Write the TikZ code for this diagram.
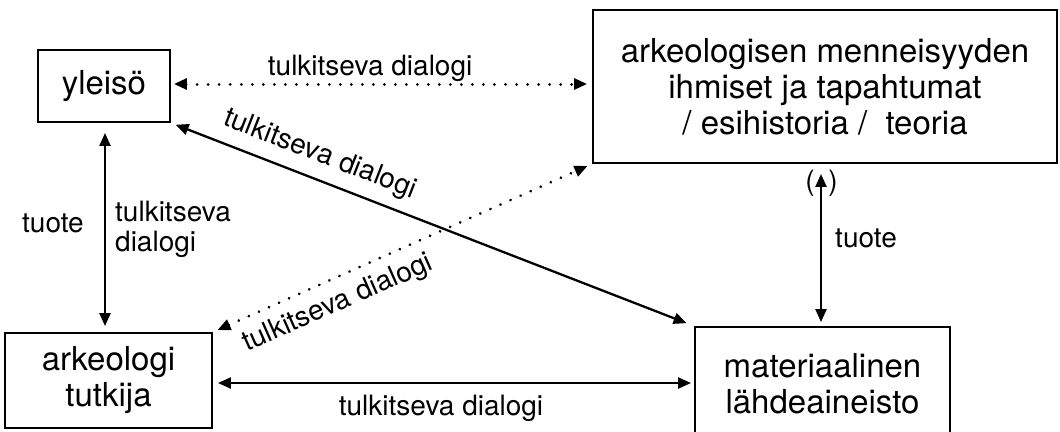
\documentclass[tikz,border=0pt]{standalone}
\usepackage{fontspec}
\setmainfont{TeX Gyre Heros}
\usetikzlibrary{arrows.meta}
\begin{document}
\begin{tikzpicture}[x=1pt,y=-1pt,
 box/.style={draw, line width=1.9pt, inner sep=0pt, align=center, font=\fontsize{33}{36}\selectfont},
 lbl/.style={inner sep=0pt, font=\fontsize{28}{30}\selectfont},
 conn/.style={line width=2.3pt, {Triangle[length=13pt,width=11pt]}-{Triangle[length=13pt,width=11pt]}},
 dotconn/.style={line width=3pt, line cap=round, dash pattern=on 0.01pt off 11pt, {Triangle[length=13pt,width=11pt]}-{Triangle[length=13pt,width=11pt]}}]
\useasboundingbox (0,0) rectangle (1060,431);
% boxes
\node[box, minimum width=132pt, minimum height=72pt] (yl) at (104,86) {yleisö};
\node[box, minimum width=464pt, minimum height=153pt] (big) at (825,86.5) {arkeologisen menneisyyden\\ihmiset ja tapahtumat\\/ esihistoria /\ \ teoria};
\node[box, minimum width=207pt, minimum height=95pt] (ark) at (108.5,380.5) {arkeologi\\tutkija};
\node[box, minimum width=255pt, minimum height=113pt] (mat) at (822.5,383.5) {materiaalinen\\lähdeaineisto};
% connectors
\draw[dotconn, shorten <=3pt, shorten >=5pt] ([yshift=2pt]yl.east) -- ([yshift=2pt]yl.east -| big.west)
  node[lbl, pos=0.473, above=1pt] {tulkitseva dialogi};
\draw[conn, shorten <=5pt, shorten >=8pt] (yl.south east) -- (mat.north west)
  node[lbl, sloped, pos=0.268, above=10pt] {tulkitseva dialogi};
\draw[dotconn, shorten <=5pt, shorten >=5pt] (ark.north east) -- (big.south west)
  node[lbl, sloped, pos=0.303, below=10pt] {tulkitseva dialogi};
\draw[conn, shorten <=10pt, shorten >=6pt] ([xshift=1pt]yl.south) -- ([xshift=1pt]yl.south |- ark.north);
\draw[conn, shorten <=4pt, shorten >=10pt] ([xshift=-1.5pt]mat.north) -- ([xshift=-1.5pt]mat.north |- big.south);
\draw[conn, shorten <=5pt, shorten >=3pt] ([yshift=-2.5pt]ark.east) -- ([yshift=-2.5pt]ark.east -| mat.west)
  node[lbl, pos=0.474, below=11pt] {tulkitseva dialogi};
% free labels
\node[lbl] (tuoteL) at (53,223) {tuote};
\node[lbl, anchor=west, align=left] (tdL) at (115,229) {tulkitseva\\dialogi};
\node[lbl] (tuoteR) at (866,238.5) {tuote};
\node[lbl] (pl) at (810,183) {(};
\node[lbl] (pr) at (833,183) {)};
\end{tikzpicture}
\end{document}
